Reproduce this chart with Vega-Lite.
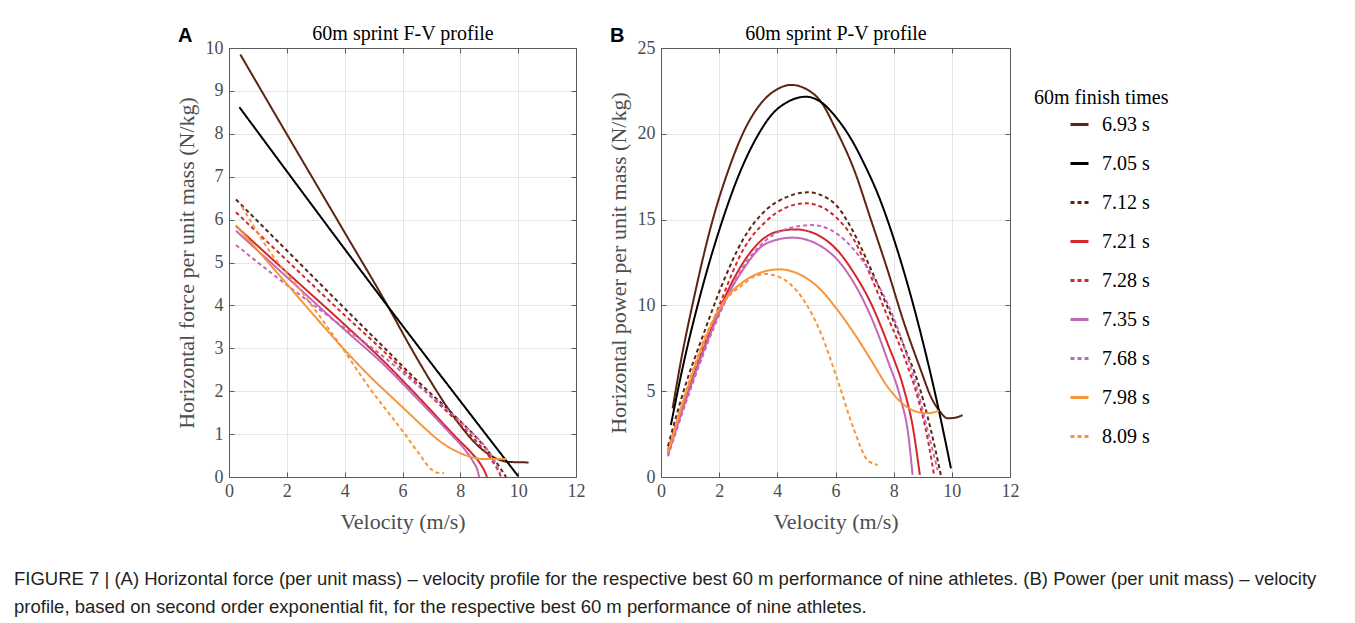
{
  "$schema": "https://vega.github.io/schema/vega-lite/v6.json",
  "padding": {"left": 14, "top": 23, "right": 5, "bottom": 5},
  "background": "white",
  "title": {
    "text": ["FIGURE 7 | (A) Horizontal force (per unit mass) – velocity profile for the respective best 60 m performance of nine athletes. (B) Power (per unit mass) – velocity", "profile, based on second order exponential fit, for the respective best 60 m performance of nine athletes."],
    "orient": "bottom", "anchor": "start", "frame": "bounds", "dx": -161, "offset": 38,
    "font": "Liberation Sans", "fontSize": 18.5, "fontWeight": "normal", "color": "#231f20", "lineHeight": 28
  },
  "datasets": {
    "fv": [
      {"time": "6.93 s", "v": 0.39, "y": 9.85}, {"time": "6.93 s", "v": 2, "y": 7.99}, {"time": "6.93 s", "v": 4, "y": 5.7}, {"time": "6.93 s", "v": 5.47, "y": 4.01}, {"time": "6.93 s", "v": 6.3, "y": 3.0}, {"time": "6.93 s", "v": 7.0, "y": 2.2}, {"time": "6.93 s", "v": 7.54, "y": 1.63}, {"time": "6.93 s", "v": 8.0, "y": 1.2}, {"time": "6.93 s", "v": 8.5, "y": 0.8}, {"time": "6.93 s", "v": 9.0, "y": 0.52}, {"time": "6.93 s", "v": 9.4, "y": 0.39}, {"time": "6.93 s", "v": 9.7, "y": 0.35}, {"time": "6.93 s", "v": 10.36, "y": 0.34},
      {"time": "7.05 s", "v": 0.36, "y": 8.62}, {"time": "7.05 s", "v": 5.3, "y": 4.15}, {"time": "7.05 s", "v": 10.0, "y": 0.02},
      {"time": "7.12 s", "v": 0.24, "y": 6.47}, {"time": "7.12 s", "v": 2, "y": 5.28}, {"time": "7.12 s", "v": 4, "y": 3.93}, {"time": "7.12 s", "v": 5.24, "y": 3.1}, {"time": "7.12 s", "v": 6.5, "y": 2.25}, {"time": "7.12 s", "v": 8.0, "y": 1.3}, {"time": "7.12 s", "v": 8.69, "y": 0.82}, {"time": "7.12 s", "v": 9.1, "y": 0.48}, {"time": "7.12 s", "v": 9.35, "y": 0.24}, {"time": "7.12 s", "v": 9.58, "y": 0.0},
      {"time": "7.21 s", "v": 0.24, "y": 5.85}, {"time": "7.21 s", "v": 2, "y": 4.77}, {"time": "7.21 s", "v": 4, "y": 3.55}, {"time": "7.21 s", "v": 5.24, "y": 2.77}, {"time": "7.21 s", "v": 6.5, "y": 1.9}, {"time": "7.21 s", "v": 7.89, "y": 0.9}, {"time": "7.21 s", "v": 8.4, "y": 0.55}, {"time": "7.21 s", "v": 8.7, "y": 0.3}, {"time": "7.21 s", "v": 8.85, "y": 0.12}, {"time": "7.21 s", "v": 8.92, "y": 0.0},
      {"time": "7.28 s", "v": 0.24, "y": 6.17}, {"time": "7.28 s", "v": 2, "y": 5.05}, {"time": "7.28 s", "v": 4, "y": 3.77}, {"time": "7.28 s", "v": 5.24, "y": 3.0}, {"time": "7.28 s", "v": 6.5, "y": 2.18}, {"time": "7.28 s", "v": 8.0, "y": 1.22}, {"time": "7.28 s", "v": 8.7, "y": 0.72}, {"time": "7.28 s", "v": 9.1, "y": 0.38}, {"time": "7.28 s", "v": 9.3, "y": 0.16}, {"time": "7.28 s", "v": 9.41, "y": 0.0},
      {"time": "7.35 s", "v": 0.24, "y": 5.74}, {"time": "7.35 s", "v": 2, "y": 4.66}, {"time": "7.35 s", "v": 4, "y": 3.43}, {"time": "7.35 s", "v": 5.24, "y": 2.69}, {"time": "7.35 s", "v": 6.5, "y": 1.83}, {"time": "7.35 s", "v": 7.6, "y": 1.05}, {"time": "7.35 s", "v": 8.2, "y": 0.6}, {"time": "7.35 s", "v": 8.45, "y": 0.35}, {"time": "7.35 s", "v": 8.6, "y": 0.14}, {"time": "7.35 s", "v": 8.65, "y": 0.0},
      {"time": "7.68 s", "v": 0.24, "y": 5.41}, {"time": "7.68 s", "v": 1.7, "y": 4.63}, {"time": "7.68 s", "v": 3, "y": 3.97}, {"time": "7.68 s", "v": 4, "y": 3.47}, {"time": "7.68 s", "v": 5.24, "y": 2.86}, {"time": "7.68 s", "v": 6.5, "y": 2.15}, {"time": "7.68 s", "v": 7.5, "y": 1.6}, {"time": "7.68 s", "v": 8.3, "y": 1.1}, {"time": "7.68 s", "v": 8.92, "y": 0.65}, {"time": "7.68 s", "v": 9.2, "y": 0.35}, {"time": "7.68 s", "v": 9.38, "y": 0.08},
      {"time": "7.98 s", "v": 0.24, "y": 5.87}, {"time": "7.98 s", "v": 2, "y": 4.5}, {"time": "7.98 s", "v": 3, "y": 3.72}, {"time": "7.98 s", "v": 4, "y": 2.96}, {"time": "7.98 s", "v": 5, "y": 2.26}, {"time": "7.98 s", "v": 5.6, "y": 1.88}, {"time": "7.98 s", "v": 6.2, "y": 1.5}, {"time": "7.98 s", "v": 6.8, "y": 1.12}, {"time": "7.98 s", "v": 7.3, "y": 0.83}, {"time": "7.98 s", "v": 7.8, "y": 0.62}, {"time": "7.98 s", "v": 8.3, "y": 0.48}, {"time": "7.98 s", "v": 8.8, "y": 0.42}, {"time": "7.98 s", "v": 9.6, "y": 0.42},
      {"time": "8.09 s", "v": 0.45, "y": 6.3}, {"time": "8.09 s", "v": 1.45, "y": 5.22}, {"time": "8.09 s", "v": 2.37, "y": 4.44}, {"time": "8.09 s", "v": 3.77, "y": 3.15}, {"time": "8.09 s", "v": 4.91, "y": 2.03}, {"time": "8.09 s", "v": 6.06, "y": 1.02}, {"time": "8.09 s", "v": 6.6, "y": 0.52}, {"time": "8.09 s", "v": 6.99, "y": 0.18}, {"time": "8.09 s", "v": 7.2, "y": 0.1}, {"time": "8.09 s", "v": 7.44, "y": 0.09}
    ],
    "pv": [
      {"time": "6.93 s", "v": 0.4, "y": 4.0}, {"time": "6.93 s", "v": 0.7, "y": 6.9}, {"time": "6.93 s", "v": 1.09, "y": 10.1}, {"time": "6.93 s", "v": 1.78, "y": 15.0}, {"time": "6.93 s", "v": 2.3, "y": 17.8}, {"time": "6.93 s", "v": 2.81, "y": 20.0}, {"time": "6.93 s", "v": 3.5, "y": 21.9}, {"time": "6.93 s", "v": 4.0, "y": 22.6}, {"time": "6.93 s", "v": 4.47, "y": 22.85}, {"time": "6.93 s", "v": 5.0, "y": 22.6}, {"time": "6.93 s", "v": 5.5, "y": 21.87}, {"time": "6.93 s", "v": 6.0, "y": 20.3}, {"time": "6.93 s", "v": 6.64, "y": 17.9}, {"time": "6.93 s", "v": 7.22, "y": 14.98}, {"time": "6.93 s", "v": 7.79, "y": 12.06}, {"time": "6.93 s", "v": 8.36, "y": 8.96}, {"time": "6.93 s", "v": 8.93, "y": 6.24}, {"time": "6.93 s", "v": 9.28, "y": 4.68}, {"time": "6.93 s", "v": 9.6, "y": 3.8}, {"time": "6.93 s", "v": 9.85, "y": 3.42}, {"time": "6.93 s", "v": 10.1, "y": 3.45}, {"time": "6.93 s", "v": 10.37, "y": 3.61},
      {"time": "7.05 s", "v": 0.34, "y": 3.03}, {"time": "7.05 s", "v": 0.8, "y": 6.8}, {"time": "7.05 s", "v": 1.32, "y": 10.4}, {"time": "7.05 s", "v": 2.12, "y": 15.0}, {"time": "7.05 s", "v": 2.7, "y": 17.7}, {"time": "7.05 s", "v": 3.26, "y": 19.7}, {"time": "7.05 s", "v": 3.8, "y": 21.1}, {"time": "7.05 s", "v": 4.4, "y": 21.9}, {"time": "7.05 s", "v": 4.98, "y": 22.16}, {"time": "7.05 s", "v": 5.5, "y": 21.85}, {"time": "7.05 s", "v": 6.0, "y": 21.0}, {"time": "7.05 s", "v": 6.5, "y": 19.8}, {"time": "7.05 s", "v": 7.0, "y": 18.2}, {"time": "7.05 s", "v": 7.5, "y": 16.3}, {"time": "7.05 s", "v": 8.0, "y": 13.9}, {"time": "7.05 s", "v": 8.5, "y": 11.1}, {"time": "7.05 s", "v": 9.0, "y": 7.9}, {"time": "7.05 s", "v": 9.5, "y": 4.3}, {"time": "7.05 s", "v": 9.97, "y": 0.5},
      {"time": "7.12 s", "v": 0.24, "y": 1.8}, {"time": "7.12 s", "v": 0.86, "y": 5.46}, {"time": "7.12 s", "v": 1.43, "y": 8.18}, {"time": "7.12 s", "v": 2.12, "y": 11.29}, {"time": "7.12 s", "v": 2.81, "y": 13.81}, {"time": "7.12 s", "v": 3.61, "y": 15.56}, {"time": "7.12 s", "v": 4.3, "y": 16.3}, {"time": "7.12 s", "v": 5.04, "y": 16.59}, {"time": "7.12 s", "v": 5.5, "y": 16.43}, {"time": "7.12 s", "v": 6.07, "y": 15.75}, {"time": "7.12 s", "v": 6.64, "y": 14.2}, {"time": "7.12 s", "v": 7.22, "y": 12.1}, {"time": "7.12 s", "v": 7.79, "y": 9.9}, {"time": "7.12 s", "v": 8.36, "y": 7.6}, {"time": "7.12 s", "v": 8.82, "y": 5.6}, {"time": "7.12 s", "v": 9.28, "y": 2.74}, {"time": "7.12 s", "v": 9.62, "y": 0.12},
      {"time": "7.21 s", "v": 0.24, "y": 1.4}, {"time": "7.21 s", "v": 0.9, "y": 4.8}, {"time": "7.21 s", "v": 1.5, "y": 7.6}, {"time": "7.21 s", "v": 2.12, "y": 10.2}, {"time": "7.21 s", "v": 2.81, "y": 12.45}, {"time": "7.21 s", "v": 3.61, "y": 14.0}, {"time": "7.21 s", "v": 4.0, "y": 14.3}, {"time": "7.21 s", "v": 4.64, "y": 14.43}, {"time": "7.21 s", "v": 5.0, "y": 14.35}, {"time": "7.21 s", "v": 5.5, "y": 14.0}, {"time": "7.21 s", "v": 6.07, "y": 13.2}, {"time": "7.21 s", "v": 6.64, "y": 11.87}, {"time": "7.21 s", "v": 7.22, "y": 10.12}, {"time": "7.21 s", "v": 7.79, "y": 7.79}, {"time": "7.21 s", "v": 8.36, "y": 5.07}, {"time": "7.21 s", "v": 8.65, "y": 3.0}, {"time": "7.21 s", "v": 8.9, "y": 0.12},
      {"time": "7.28 s", "v": 0.24, "y": 1.6}, {"time": "7.28 s", "v": 0.9, "y": 5.0}, {"time": "7.28 s", "v": 1.55, "y": 7.98}, {"time": "7.28 s", "v": 2.12, "y": 10.5}, {"time": "7.28 s", "v": 2.81, "y": 13.2}, {"time": "7.28 s", "v": 3.61, "y": 14.9}, {"time": "7.28 s", "v": 4.3, "y": 15.7}, {"time": "7.28 s", "v": 4.98, "y": 15.95}, {"time": "7.28 s", "v": 5.5, "y": 15.75}, {"time": "7.28 s", "v": 6.07, "y": 15.05}, {"time": "7.28 s", "v": 6.64, "y": 13.81}, {"time": "7.28 s", "v": 7.22, "y": 11.67}, {"time": "7.28 s", "v": 7.79, "y": 9.34}, {"time": "7.28 s", "v": 8.36, "y": 7.01}, {"time": "7.28 s", "v": 8.82, "y": 4.68}, {"time": "7.28 s", "v": 9.1, "y": 2.8}, {"time": "7.28 s", "v": 9.39, "y": 0.12},
      {"time": "7.35 s", "v": 0.24, "y": 1.3}, {"time": "7.35 s", "v": 0.9, "y": 4.7}, {"time": "7.35 s", "v": 1.5, "y": 7.5}, {"time": "7.35 s", "v": 2.12, "y": 10.0}, {"time": "7.35 s", "v": 2.81, "y": 12.06}, {"time": "7.35 s", "v": 3.61, "y": 13.6}, {"time": "7.35 s", "v": 4.52, "y": 13.95}, {"time": "7.35 s", "v": 5.0, "y": 13.83}, {"time": "7.35 s", "v": 5.5, "y": 13.45}, {"time": "7.35 s", "v": 6.07, "y": 12.65}, {"time": "7.35 s", "v": 6.64, "y": 11.29}, {"time": "7.35 s", "v": 7.22, "y": 9.34}, {"time": "7.35 s", "v": 7.79, "y": 6.82}, {"time": "7.35 s", "v": 8.25, "y": 4.49}, {"time": "7.35 s", "v": 8.5, "y": 2.5}, {"time": "7.35 s", "v": 8.65, "y": 0.12},
      {"time": "7.68 s", "v": 0.24, "y": 1.2}, {"time": "7.68 s", "v": 0.9, "y": 4.55}, {"time": "7.68 s", "v": 1.5, "y": 7.35}, {"time": "7.68 s", "v": 2.12, "y": 9.9}, {"time": "7.68 s", "v": 2.81, "y": 12.2}, {"time": "7.68 s", "v": 3.61, "y": 13.8}, {"time": "7.68 s", "v": 4.4, "y": 14.5}, {"time": "7.68 s", "v": 5.21, "y": 14.68}, {"time": "7.68 s", "v": 5.5, "y": 14.62}, {"time": "7.68 s", "v": 6.07, "y": 14.15}, {"time": "7.68 s", "v": 6.64, "y": 13.23}, {"time": "7.68 s", "v": 7.22, "y": 11.87}, {"time": "7.68 s", "v": 7.79, "y": 10.12}, {"time": "7.68 s", "v": 8.36, "y": 7.59}, {"time": "7.68 s", "v": 8.82, "y": 5.07}, {"time": "7.68 s", "v": 9.2, "y": 2.5}, {"time": "7.68 s", "v": 9.51, "y": 0.41},
      {"time": "7.98 s", "v": 0.24, "y": 1.4}, {"time": "7.98 s", "v": 0.97, "y": 5.46}, {"time": "7.98 s", "v": 1.55, "y": 8.18}, {"time": "7.98 s", "v": 2.12, "y": 10.12}, {"time": "7.98 s", "v": 2.92, "y": 11.48}, {"time": "7.98 s", "v": 3.5, "y": 11.95}, {"time": "7.98 s", "v": 4.07, "y": 12.1}, {"time": "7.98 s", "v": 4.8, "y": 11.78}, {"time": "7.98 s", "v": 5.5, "y": 10.9}, {"time": "7.98 s", "v": 6.07, "y": 9.73}, {"time": "7.98 s", "v": 6.64, "y": 8.37}, {"time": "7.98 s", "v": 7.22, "y": 6.82}, {"time": "7.98 s", "v": 7.79, "y": 5.26}, {"time": "7.98 s", "v": 8.36, "y": 4.2}, {"time": "7.98 s", "v": 8.93, "y": 3.75}, {"time": "7.98 s", "v": 9.2, "y": 3.72}, {"time": "7.98 s", "v": 9.56, "y": 3.86},
      {"time": "8.09 s", "v": 0.24, "y": 1.5}, {"time": "8.09 s", "v": 0.97, "y": 5.6}, {"time": "8.09 s", "v": 1.55, "y": 8.3}, {"time": "8.09 s", "v": 2.12, "y": 10.1}, {"time": "8.09 s", "v": 2.81, "y": 11.2}, {"time": "8.09 s", "v": 3.2, "y": 11.68}, {"time": "8.09 s", "v": 3.61, "y": 11.83}, {"time": "8.09 s", "v": 4.0, "y": 11.7}, {"time": "8.09 s", "v": 4.41, "y": 11.29}, {"time": "8.09 s", "v": 4.98, "y": 10.12}, {"time": "8.09 s", "v": 5.5, "y": 8.37}, {"time": "8.09 s", "v": 6.07, "y": 5.65}, {"time": "8.09 s", "v": 6.64, "y": 2.74}, {"time": "8.09 s", "v": 7.1, "y": 0.99}, {"time": "8.09 s", "v": 7.45, "y": 0.7}
    ]
  },
  "spacing": 22,
  "resolve": {"scale": {"color": "shared", "strokeDash": "shared"}, "legend": {"color": "shared", "strokeDash": "shared"}},
  "hconcat": [
    {
      "width": 347, "height": 429,
      "title": {"text": "A", "anchor": "start", "frame": "bounds", "font": "Liberation Sans", "fontWeight": "bold", "fontSize": 20, "color": "#000000", "offset": -22, "dx": 3},
      "data": {"name": "fv"},
      "layer": [
        {
          "mark": {"type": "line", "strokeWidth": 2, "interpolate": "monotone"},
          "encoding": {
            "x": {"field": "v", "type": "quantitative", "scale": {"domain": [0, 12], "nice": false, "zero": false},
                  "axis": {"title": "Velocity (m/s)", "values": [0, 2, 4, 6, 8, 10, 12], "grid": true, "labelPadding": 10, "titlePadding": 11}},
            "y": {"field": "y", "type": "quantitative", "scale": {"domain": [0, 10], "nice": false},
                  "axis": {"title": "Horizontal force per unit mass (N/kg)", "values": [0, 1, 2, 3, 4, 5, 6, 7, 8, 9, 10], "grid": true, "labelPadding": 11, "titlePadding": 7}},
            "color": {"field": "time", "type": "nominal",
                      "scale": {"domain": ["6.93 s", "7.05 s", "7.12 s", "7.21 s", "7.28 s", "7.35 s", "7.68 s", "7.98 s", "8.09 s"],
                                "range": ["#5e2412", "#000000", "#5e2412", "#d4262b", "#d4262b", "#c468b4", "#c468b4", "#f7953d", "#f7953d"]},
                      "legend": {"title": "60m finish times", "orient": "none", "legendX": 805, "legendY": 40}},
            "strokeDash": {"field": "time", "type": "nominal",
                           "scale": {"domain": ["6.93 s", "7.05 s", "7.12 s", "7.21 s", "7.28 s", "7.35 s", "7.68 s", "7.98 s", "8.09 s"],
                                     "range": [[1, 0], [1, 0], [4, 3], [1, 0], [4, 3], [1, 0], [4, 3], [1, 0], [4, 3]]},
                           "legend": {"title": "60m finish times", "orient": "none", "legendX": 805, "legendY": 40}}
          }
        },
        {
          "mark": {"type": "point", "opacity": 0},
          "encoding": {
            "x": {"field": "v", "type": "quantitative", "scale": {"domain": [0, 12], "nice": false, "zero": false},
                  "axis": {"orient": "top", "labels": false, "grid": false, "values": [0, 2, 4, 6, 8, 10, 12], "title": "60m sprint F-V profile", "titleFontSize": 20, "titleColor": "#000000", "titlePadding": 4}},
            "y": {"field": "y", "type": "quantitative", "scale": {"domain": [0, 10], "nice": false},
                  "axis": {"orient": "right", "labels": false, "grid": false, "values": [0, 1, 2, 3, 4, 5, 6, 7, 8, 9, 10], "title": null}}
          }
        }
      ],
      "resolve": {"axis": {"x": "independent", "y": "independent"}}
    },
    {
      "width": 349, "height": 429,
      "title": {"text": "B", "anchor": "start", "frame": "bounds", "font": "Liberation Sans", "fontWeight": "bold", "fontSize": 20, "color": "#000000", "offset": -22, "dx": 3},
      "data": {"name": "pv"},
      "layer": [
        {
          "mark": {"type": "line", "strokeWidth": 2, "interpolate": "monotone"},
          "encoding": {
            "x": {"field": "v", "type": "quantitative", "scale": {"domain": [0, 12], "nice": false, "zero": false},
                  "axis": {"title": "Velocity (m/s)", "values": [0, 2, 4, 6, 8, 10, 12], "grid": true, "labelPadding": 10, "titlePadding": 11}},
            "y": {"field": "y", "type": "quantitative", "scale": {"domain": [0, 25], "nice": false},
                  "axis": {"title": "Horizontal power per unit mass (N/kg)", "values": [0, 5, 10, 15, 20, 25], "grid": true, "labelPadding": 11, "titlePadding": 7}},
            "color": {"field": "time", "type": "nominal",
                      "scale": {"domain": ["6.93 s", "7.05 s", "7.12 s", "7.21 s", "7.28 s", "7.35 s", "7.68 s", "7.98 s", "8.09 s"],
                                "range": ["#5e2412", "#000000", "#5e2412", "#d4262b", "#d4262b", "#c468b4", "#c468b4", "#f7953d", "#f7953d"]},
                      "legend": {"title": "60m finish times", "orient": "none", "legendX": 805, "legendY": 40}},
            "strokeDash": {"field": "time", "type": "nominal",
                           "scale": {"domain": ["6.93 s", "7.05 s", "7.12 s", "7.21 s", "7.28 s", "7.35 s", "7.68 s", "7.98 s", "8.09 s"],
                                     "range": [[1, 0], [1, 0], [4, 3], [1, 0], [4, 3], [1, 0], [4, 3], [1, 0], [4, 3]]},
                           "legend": {"title": "60m finish times", "orient": "none", "legendX": 805, "legendY": 40}}
          }
        },
        {
          "mark": {"type": "point", "opacity": 0},
          "encoding": {
            "x": {"field": "v", "type": "quantitative", "scale": {"domain": [0, 12], "nice": false, "zero": false},
                  "axis": {"orient": "top", "labels": false, "grid": false, "values": [0, 2, 4, 6, 8, 10, 12], "title": "60m sprint P-V profile", "titleFontSize": 20, "titleColor": "#000000", "titlePadding": 4}},
            "y": {"field": "y", "type": "quantitative", "scale": {"domain": [0, 25], "nice": false},
                  "axis": {"orient": "right", "labels": false, "grid": false, "values": [0, 5, 10, 15, 20, 25], "title": null}}
          }
        }
      ],
      "resolve": {"axis": {"x": "independent", "y": "independent"}}
    }
  ],
  "config": {
    "view": {"stroke": null},
    "font": "Liberation Serif",
    "axis": {
      "labelFont": "Liberation Serif", "labelFontSize": 18, "labelColor": "#4d4d4d",
      "titleFont": "Liberation Serif", "titleFontSize": 22, "titleFontWeight": "normal", "titleColor": "#4d4d4d",
      "domainColor": "#5a5a5a", "domainWidth": 1, "tickColor": "#5a5a5a", "tickSize": -5, "tickWidth": 1,
      "gridColor": "#e6e6e6", "gridWidth": 1, "labelFlush": false, "labelOverlap": false
    },
    "legend": {
      "titleFont": "Liberation Serif", "titleFontSize": 20, "titleFontWeight": "normal", "titleColor": "#000000",
      "labelFont": "Liberation Serif", "labelFontSize": 20, "labelColor": "#000000",
      "symbolType": "stroke", "symbolSize": 324, "symbolStrokeWidth": 3,
      "rowPadding": 18, "symbolOffset": 35, "labelOffset": 12, "titlePadding": 6
    }
  }
}
